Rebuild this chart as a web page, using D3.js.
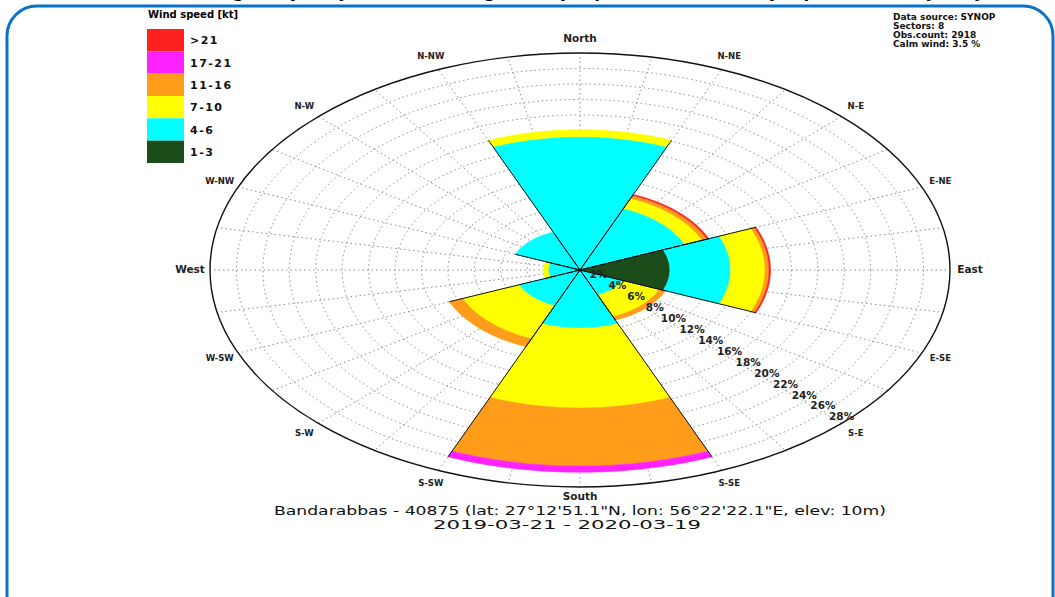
<!DOCTYPE html>
<html>
<head>
<meta charset="utf-8">
<script src="https://cdn.jsdelivr.net/npm/d3@7"></script>
<style>
  body { margin: 0; background: #fff; }
  svg { display: block; font-family: "DejaVu Sans", sans-serif; }
</style>
</head>
<body>
<div id="chart"></div>
<script>
// sectors (centre angle, clockwise from north)
const sectors = ["N", "NE", "E", "SE", "S", "SW", "W", "NW"];
const sectorAngles = [0, 45, 90, 135, 180, 225, 270, 315];

// speed classes, inner to outer
const speedClasses = ["1-3", "4-6", "7-10", "11-16", "17-21", ">21"];
const speedColors = ["#1b4d1b", "#00ffff", "#ffff00", "#ff9c1a", "#ff22ff", "#ff2020"];

// frequency (%) per sector for each class
const pct1to3   = [0,    0,   6.8, 0,   0,    0,   0,   0];
const pct4to6   = [17.2, 8.6, 4.6, 3.5, 7.5,  5.0, 2.4, 5.3];
const pct7to10  = [0.9,  1.4, 2.6, 3.0, 10.3, 4.6, 0.4, 0];
const pct11to16 = [0,    0.4, 0.3, 0.5, 7.5,  1.1, 0,   0];
const pct17to21 = [0,    0,   0,   0,   0.8,  0,   0,   0];
const pctOver21 = [0,    0.15, 0.12, 0,  0,    0,   0,   0];

const directionLabels = ["North", "N-NE", "N-E", "E-NE", "East", "E-SE", "S-E", "S-SE",
                         "South", "S-SW", "S-W", "W-SW", "West", "W-NW", "N-W", "N-NW"];
const ringTicks = [2, 4, 6, 8, 10, 12, 14, 16, 18, 20, 22, 24, 26, 28];

const infoLines = ["Data source: SYNOP", "Sectors: 8", "Obs.count: 2918", "Calm wind: 3.5 %"];
const stationLine = "Bandarabbas - 40875 (lat: 27°12'51.1\"N, lon: 56°22'22.1\"E, elev: 10m)";
const periodLine = "2019-03-21 - 2020-03-19";

const width = 1055, height = 597;
const cx = 580, cy = 270;

const svg = d3.select("#chart").append("svg")
  .attr("width", width)
  .attr("height", height);

// title, mostly above the top edge
svg.append("text")
  .attr("x", 600).attr("y", -3)
  .attr("text-anchor", "middle")
  .attr("font-size", 17)
  .attr("font-weight", "bold")
  .text("Figure: yearly wind rose diagram (Synop), Bandarabbas synoptic station, yearly");

// frame
svg.append("rect")
  .attr("x", 7).attr("y", 6)
  .attr("width", 1046).attr("height", 700)
  .attr("rx", 30)
  .attr("fill", "none")
  .attr("stroke", "#0b72c9")
  .attr("stroke-width", 3);

// elliptical radial scales
const rx = d3.scaleLinear().domain([0, 28]).range([0, 370]);
const ry = d3.scaleLinear().domain([0, 28]).range([0, 217]);
const toRad = d => d * Math.PI / 180;
const pt = (deg, v) => [cx + rx(v) * Math.sin(toRad(deg)), cy - ry(v) * Math.cos(toRad(deg))];

const line = d3.line();

// grid
const grid = svg.append("g");
grid.selectAll(".ring")
  .data(ringTicks.slice(0, -1))
  .enter().append("ellipse")
  .attr("cx", cx).attr("cy", cy)
  .attr("rx", d => rx(d)).attr("ry", d => ry(d))
  .attr("fill", "none")
  .attr("stroke", "#8c8c8c")
  .attr("stroke-width", 1)
  .attr("stroke-dasharray", "1.5,3");

grid.selectAll(".spoke")
  .data(d3.range(0, 360, 11.25))
  .enter().append("path")
  .attr("d", d => line([pt(d, 0), pt(d, 28)]))
  .attr("stroke", "#8c8c8c")
  .attr("stroke-width", 1)
  .attr("stroke-dasharray", "1.5,3");

grid.append("ellipse")
  .attr("cx", cx).attr("cy", cy)
  .attr("rx", rx(28)).attr("ry", ry(28))
  .attr("fill", "none")
  .attr("stroke", "#111")
  .attr("stroke-width", 1.4);

// stacked bands
const classValues = [pct1to3, pct4to6, pct7to10, pct11to16, pct17to21, pctOver21];
const bands = [];
sectors.forEach((s, i) => {
  let base = 0;
  classValues.forEach((vals, k) => {
    if (vals[i] > 0) {
      bands.push({sector: i, r0: base, r1: base + vals[i], color: speedColors[k]});
      base += vals[i];
    }
  });
});

function bandPath(b) {
  const a0 = sectorAngles[b.sector] - 22.5, a1 = sectorAngles[b.sector] + 22.5;
  const angs = d3.range(a0, a1 + 0.01, 0.5);
  const pts = angs.map(a => pt(a, b.r1)).concat(angs.slice().reverse().map(a => pt(a, b.r0)));
  return line(pts) + "Z";
}

svg.append("g").selectAll("path")
  .data(bands)
  .enter().append("path")
  .attr("d", bandPath)
  .attr("fill", d => d.color)
  .attr("stroke", d => d.color)
  .attr("stroke-width", 0.5);

// sector side edges
const totals = sectors.map((s, i) => d3.sum(classValues, vals => vals[i]));
const edges = svg.append("g");
sectors.forEach((s, i) => {
  [-22.5, 22.5].forEach(off => {
    edges.append("path")
      .attr("d", line([pt(sectorAngles[i] + off, 0), pt(sectorAngles[i] + off, totals[i])]))
      .attr("stroke", "#111")
      .attr("stroke-width", 1);
  });
});

// percentage labels along S-E
svg.append("g").selectAll("text")
  .data(ringTicks)
  .enter().append("text")
  .attr("x", d => pt(135, d)[0])
  .attr("y", d => pt(135, d)[1] - 6)
  .attr("text-anchor", "middle")
  .attr("dominant-baseline", "middle")
  .attr("font-size", 10.5)
  .attr("font-weight", "bold")
  .attr("fill", "#222")
  .text(d => d + "%");

// direction labels
svg.append("g").selectAll("text")
  .data(directionLabels)
  .enter().append("text")
  .attr("x", (d, i) => cx + (rx(28) + 20) * Math.sin(toRad(i * 22.5)))
  .attr("y", (d, i) => cy - (ry(28) + (i === 8 ? 10 : 14)) * Math.cos(toRad(i * 22.5)))
  .attr("text-anchor", "middle")
  .attr("dominant-baseline", "middle")
  .attr("font-size", (d, i) => i % 4 === 0 ? 10.5 : 8.5)
  .attr("font-weight", "bold")
  .attr("fill", "#222")
  .text(d => d);

// legend
const legend = svg.append("g");
legend.append("text")
  .attr("x", 148).attr("y", 18)
  .attr("font-size", 10)
  .attr("font-weight", "bold")
  .text("Wind speed [kt]");

const legendOrder = speedClasses.slice().reverse();
const legendColors = speedColors.slice().reverse();
const ly = d3.scaleBand().domain(legendOrder).range([29, 163]);
legend.selectAll("rect")
  .data(legendOrder)
  .enter().append("rect")
  .attr("x", 147).attr("y", d => ly(d))
  .attr("width", 37).attr("height", ly.bandwidth())
  .attr("fill", (d, i) => legendColors[i]);
legend.selectAll(".lab")
  .data(legendOrder)
  .enter().append("text")
  .attr("x", 190)
  .attr("y", d => ly(d) + ly.bandwidth() / 2 + 1)
  .attr("dominant-baseline", "middle")
  .attr("font-size", 11)
  .attr("font-weight", "bold")
  .attr("letter-spacing", 1.5)
  .attr("fill", "#111")
  .text(d => d);

// info block
svg.append("g").selectAll("text")
  .data(infoLines)
  .enter().append("text")
  .attr("x", 893)
  .attr("y", (d, i) => 20 + i * 9)
  .attr("font-size", 9)
  .attr("font-weight", "bold")
  .attr("fill", "#111")
  .text(d => d);

// station / period
svg.append("text")
  .attr("x", cx).attr("y", 514.5)
  .attr("text-anchor", "middle")
  .attr("font-size", 12)
  .attr("textLength", 612)
  .attr("lengthAdjust", "spacingAndGlyphs")
  .attr("fill", "#111")
  .text(stationLine);
svg.append("text")
  .attr("x", 567).attr("y", 529)
  .attr("text-anchor", "middle")
  .attr("font-size", 12)
  .attr("textLength", 268)
  .attr("lengthAdjust", "spacingAndGlyphs")
  .attr("fill", "#111")
  .text(periodLine);
</script>
</body>
</html>
